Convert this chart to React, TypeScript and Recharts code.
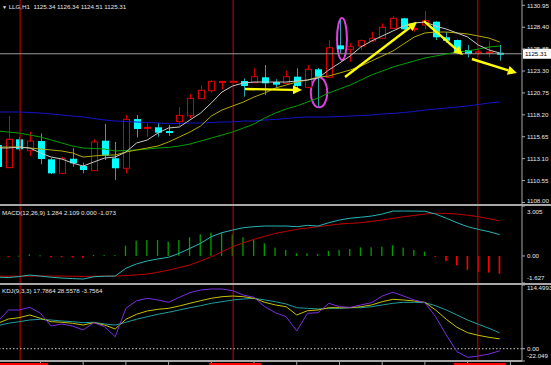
import React from "react";
import { ComposedChart, Bar, Line, XAxis, YAxis, ReferenceLine, ReferenceArea } from "recharts";

// LLG,H1 bars (index 0 is the clipped bar at the left edge)
const opens = [1114.69, 1112.05, 1115.35, 1114.02, 1115.15, 1113.02, 1111.39, 1113.09, 1112.24, 1111.7, 1115.19, 1113.14, 1111.98, 1117.71, 1116.58, 1116.75, 1116.28, 1117.4, 1118.1, 1120.08, 1121.01, 1121.95, 1122.0, 1122.14, 1121.94, 1122.57, 1122.02, 1121.87, 1122.64, 1121.4, 1123.5, 1122.57, 1126.29, 1125.83, 1126.21, 1126.79, 1127.11, 1128.27, 1129.44, 1128.12, 1128.66, 1129.04, 1127.23, 1126.91, 1125.75, 1125.4, 1125.41, 1125.34];
const highs = [1114.9, 1118.06, 1115.62, 1116.24, 1116.05, 1113.17, 1113.29, 1114.3, 1112.63, 1115.35, 1117.13, 1115.04, 1118.18, 1118.18, 1117.21, 1117.28, 1117.02, 1119.08, 1120.62, 1121.64, 1122.25, 1122.17, 1122.25, 1122.45, 1123.62, 1124.0, 1122.34, 1123.34, 1123.62, 1124.0, 1123.65, 1126.91, 1129.24, 1126.53, 1126.97, 1127.88, 1128.85, 1129.7, 1129.49, 1128.46, 1130.29, 1129.1, 1127.84, 1126.97, 1126.33, 1125.83, 1126.83, 1126.34];
const lows = [1111.95, 1112.01, 1113.99, 1113.41, 1112.44, 1111.31, 1111.31, 1112.16, 1111.39, 1111.66, 1112.94, 1110.61, 1111.39, 1115.58, 1115.65, 1115.65, 1115.74, 1116.9, 1117.8, 1120.05, 1120.78, 1121.17, 1121.85, 1120.31, 1121.9, 1120.51, 1121.4, 1121.85, 1121.09, 1121.32, 1119.15, 1122.49, 1125.36, 1124.38, 1125.75, 1126.74, 1127.08, 1128.25, 1128.1, 1127.88, 1128.16, 1126.91, 1126.6, 1125.49, 1124.9, 1125.16, 1124.9, 1124.51];
const closes = [1112.13, 1115.35, 1114.19, 1115.15, 1113.06, 1111.39, 1113.09, 1112.56, 1111.78, 1115.04, 1113.44, 1111.98, 1117.68, 1116.55, 1116.68, 1116.12, 1116.2, 1118.14, 1120.12, 1121.06, 1122.1, 1122.03, 1122.05, 1121.56, 1122.64, 1121.87, 1121.71, 1122.64, 1121.56, 1123.5, 1122.64, 1126.01, 1125.83, 1126.13, 1126.83, 1127.11, 1128.39, 1129.44, 1128.16, 1128.2, 1129.16, 1127.23, 1126.83, 1125.55, 1125.28, 1125.47, 1125.46, 1125.31];

// moving averages
const maWhite = [1114.34, 1114.34, 1114.45, 1114.34, 1113.76, 1113.29, 1113.06, 1112.59, 1112.24, 1112.71, 1113.17, 1113.29, 1113.87, 1114.92, 1115.27, 1116.08, 1116.67, 1116.78, 1117.6, 1118.41, 1119.58, 1120.86, 1121.56, 1121.91, 1122.02, 1122.02, 1122.02, 1122.02, 1122.14, 1122.25, 1122.49, 1123.42, 1124.23, 1125.05, 1126.1, 1126.79, 1127.38, 1127.96, 1128.54, 1128.89, 1129.01, 1128.54, 1128.19, 1127.73, 1127.26, 1126.33, 1125.75, 1125.4];
const maYellow = [1114.45, 1114.45, 1114.45, 1114.34, 1114.22, 1114.11, 1113.99, 1113.76, 1113.29, 1113.41, 1113.52, 1113.52, 1113.87, 1114.11, 1114.34, 1114.57, 1115.04, 1115.62, 1116.2, 1116.9, 1118.06, 1118.76, 1119.23, 1119.69, 1120.28, 1120.74, 1121.32, 1121.67, 1122.02, 1122.25, 1122.6, 1122.72, 1123.07, 1123.42, 1123.88, 1124.47, 1125.05, 1125.63, 1126.45, 1127.26, 1127.73, 1127.84, 1127.84, 1127.73, 1127.61, 1127.38, 1127.14, 1126.68];
const maGreen = [1116.32, 1116.2, 1116.08, 1115.85, 1115.62, 1115.27, 1114.92, 1114.57, 1114.34, 1114.28, 1114.22, 1113.99, 1114.05, 1114.11, 1114.22, 1114.34, 1114.4, 1114.57, 1114.8, 1115.15, 1115.5, 1115.85, 1116.2, 1116.67, 1117.13, 1117.83, 1118.41, 1118.88, 1119.23, 1119.69, 1120.16, 1120.74, 1121.21, 1121.67, 1122.25, 1122.84, 1123.3, 1123.77, 1124.12, 1124.47, 1124.82, 1125.05, 1125.28, 1125.51, 1125.63, 1125.86, 1126.1, 1126.21];
const maBlue = [1118.53, 1118.53, 1118.53, 1118.47, 1118.41, 1118.3, 1118.18, 1118.06, 1117.95, 1117.77, 1117.6, 1117.48, 1117.42, 1117.37, 1117.31, 1117.25, 1117.19, 1117.19, 1117.25, 1117.25, 1117.31, 1117.37, 1117.37, 1117.48, 1117.48, 1117.6, 1117.66, 1117.77, 1117.89, 1117.95, 1117.95, 1117.95, 1118.01, 1118.06, 1118.12, 1118.18, 1118.3, 1118.36, 1118.47, 1118.59, 1118.76, 1118.88, 1118.99, 1119.11, 1119.23, 1119.4, 1119.58, 1119.69];

// MACD(12,26,9)
const macdMain = [-1.28, -1.3, -1.24, -1.15, -1.21, -1.28, -1.33, -1.36, -1.39, -1.25, -1.22, -1.21, -0.74, -0.48, -0.3, -0.18, -0.08, 0.16, 0.46, 0.76, 1.16, 1.4, 1.56, 1.7, 1.76, 1.8, 1.8, 1.8, 1.76, 1.84, 1.8, 2.0, 2.16, 2.27, 2.33, 2.4, 2.52, 2.7, 2.7, 2.7, 2.69, 2.52, 2.27, 2.0, 1.76, 1.6, 1.46, 1.284];
const macdSignal = [-1.22, -1.22, -1.22, -1.21, -1.21, -1.21, -1.21, -1.22, -1.23, -1.22, -1.21, -1.21, -1.18, -1.14, -1.09, -0.98, -0.85, -0.7, -0.54, -0.3, -0.05, 0.25, 0.56, 0.79, 1.0, 1.18, 1.36, 1.48, 1.6, 1.68, 1.76, 1.84, 1.92, 1.96, 2.0, 2.08, 2.16, 2.26, 2.36, 2.44, 2.52, 2.57, 2.56, 2.52, 2.45, 2.36, 2.24, 2.109];
const macdHist = [-0.02, -0.03, 0.02, 0.1, 0.04, -0.08, -0.08, -0.08, -0.12, 0.06, 0.06, 0.05, 0.62, 0.92, 0.96, 0.96, 0.86, 0.96, 1.12, 1.3, 1.4, 1.4, 1.3, 1.12, 1.0, 0.76, 0.5, 0.36, 0.16, 0.16, 0.12, 0.3, 0.36, 0.42, 0.52, 0.52, 0.56, 0.64, 0.5, 0.36, 0.26, -0.03, -0.3, -0.56, -0.84, -0.96, -1.0, -1.073];

// KDJ(9,3,3)
const kdjK = [45.7, 53.4, 55.8, 60.6, 54.7, 48.6, 47.5, 45.7, 42.6, 46.8, 42.6, 35.5, 52.9, 61.9, 67.8, 70.8, 72.6, 76.8, 81.6, 86.3, 90.6, 93.5, 94.7, 93.5, 90.6, 83.4, 78.6, 75.5, 60.6, 68.3, 69.6, 73.7, 73.7, 73.7, 75.5, 78.6, 84.5, 88.8, 87.6, 85.8, 83.4, 69.6, 52.9, 38.5, 28.8, 24.1, 20.5, 17.7864];
const kdjD = [41.4, 45.7, 48.6, 51.6, 52.9, 51.6, 49.8, 48.6, 46.8, 47.5, 44.4, 42.6, 47.5, 52.9, 57.5, 61.9, 65.5, 69.6, 73.7, 77.3, 81.6, 84.5, 87.6, 89.3, 90.6, 87.6, 84.5, 80.4, 73.7, 72.6, 71.4, 72.6, 72.6, 73.7, 73.7, 75.5, 78.6, 81.6, 83.4, 83.4, 82.7, 77.3, 69.6, 60.6, 51.6, 43.9, 36.7, 28.5578];
const kdjJ = [48.6, 69.6, 69.6, 74.4, 63.7, 40.8, 44.4, 40.8, 33.7, 46.8, 39.6, 21.6, 72.6, 86.3, 90.6, 87.6, 83.4, 92.4, 100.7, 105.5, 107.3, 107.3, 104.3, 96.5, 92.4, 75.5, 64.7, 57.5, 31.9, 63.7, 64.7, 81.6, 75.5, 74.4, 78.6, 82.7, 94.7, 101.4, 94.7, 87.6, 82.7, 57.5, 24.7, -5.3, -15.4, -13.1, -9.5, -3.7564];

const priceTicks = [1108.0, 1110.55, 1113.1, 1115.65, 1118.2, 1120.75, 1123.3, 1125.85, 1128.4, 1130.95];
const macdTicks = [3.005, 0, -1.627];
const macdLabels = ["3.005", "0.00", "-1.627"];
const kdjTicks = [114.4993, 0, -22.049];
const kdjLabels = ["114.4993", "0.00", "-22.049"];
const daySeparators = [2.1, 22.05, 44.95];
const timeTicks = [4, 8, 12, 16, 20, 24, 28, 32, 36, 40, 44, 48];
const lastPrice = 1125.31;

// hand drawn marks, in bar index / price units
const arrows = [
  { x1: 23.15, y1: 1121.21, x2: 28.49, y2: 1121.09 },
  { x1: 32.52, y1: 1122.6, x2: 39.26, y2: 1129.01 },
  { x1: 39.91, y1: 1129.12, x2: 43.56, y2: 1125.16 },
  { x1: 44.4, y1: 1124.7, x2: 48.61, y2: 1123.07 },
];
const circles = [
  { x1: 31.77, x2: 32.7, y1: 1124.58, y2: 1129.47 },
  { x1: 29.31, x2: 30.86, y1: 1119.08, y2: 1122.57 },
];

const data = opens.map((o, i) => ({
  i,
  open: o,
  high: highs[i],
  low: lows[i],
  close: closes[i],
  maWhite: maWhite[i],
  maYellow: maYellow[i],
  maGreen: maGreen[i],
  maBlue: maBlue[i],
  macd: macdMain[i],
  signal: macdSignal[i],
  hist: macdHist[i],
  k: kdjK[i],
  d: kdjD[i],
  j: kdjJ[i],
}));

const xDomain: [number, number] = [0.2135, 49.09];
const FONT = "Liberation Sans";
const TXT = "#e6e6e6";
const GRID = "#a8a8a8";
const SEP = "#a80000";

function Candle(props: any) {
  const { x, y, width, height, payload } = props;
  if (x == null || y == null) return null;
  const top = Math.min(y, y + height);
  const h = Math.abs(height);
  const { open, close, high, low } = payload;
  const k = high > low ? h / (high - low) : 0;
  const py = (v: number) => top + (high - v) * k;
  const cx = Math.round(x + width / 2) + 0.5;
  const bull = close >= open;
  const bTop = py(Math.max(open, close));
  const bBot = py(Math.min(open, close));
  const wick = bull ? "#d80000" : "#20a8a8";
  if (bBot - bTop < 1.2) {
    return (
      <g>
        <line x1={cx} x2={cx} y1={py(high)} y2={py(low)} stroke={wick} strokeWidth={1} />
        <rect x={cx - 3.5} y={py(close) - 1} width={7} height={2} fill={bull ? "#e00000" : "#00ffff"} />
      </g>
    );
  }
  return (
    <g>
      <line x1={cx} x2={cx} y1={py(high)} y2={py(low)} stroke={wick} strokeWidth={1} />
      {bull ? (
        <rect x={cx - 3} y={bTop} width={6} height={bBot - bTop} fill="#000" stroke="#d80000" strokeWidth={1} />
      ) : (
        <rect x={cx - 3.5} y={bTop} width={7} height={bBot - bTop} fill="#00ffff" />
      )}
    </g>
  );
}

function HistBar(props: any) {
  const { x, y, width, height, payload } = props;
  if (x == null || y == null) return null;
  const top = Math.min(y, y + height);
  const h = Math.max(Math.abs(height), 1);
  const cx = x + width / 2;
  const up = payload.hist >= 0;
  return <rect x={cx - 0.7} y={top} width={up ? 1.3 : 1.6} height={h} fill={up ? "#00a000" : "#ff0000"} />;
}

function Arrow(props: any) {
  const { x1, y1, x2, y2 } = props;
  const a = Math.atan2(y2 - y1, x2 - x1);
  const L = 9;
  const W = 4.5;
  const bx = x2 - L * Math.cos(a);
  const by = y2 - L * Math.sin(a);
  const px = -Math.sin(a) * W;
  const py = Math.cos(a) * W;
  return (
    <g>
      <line x1={x1} y1={y1} x2={bx} y2={by} stroke="#ffff00" strokeWidth={2.4} />
      <polygon points={`${x2},${y2} ${bx + px},${by + py} ${bx - px},${by - py}`} fill="#ffff00" />
    </g>
  );
}

function Ring(props: any) {
  const { x, y, width, height } = props;
  return (
    <ellipse cx={x + width / 2} cy={y + height / 2} rx={width / 2} ry={height / 2} fill="none" stroke="#e040e0" strokeWidth={2} />
  );
}

function PriceTag(props: any) {
  const vb = props.viewBox;
  if (!vb) return null;
  const x = vb.x + vb.width + 1;
  return (
    <g>
      <rect x={x} y={vb.y - 5} width={29} height={10} fill="#ffffff" />
      <text x={x + 2} y={vb.y + 2.2} fontSize={6.2} fontFamily={FONT} fill="#000">{lastPrice.toFixed(2)}</text>
    </g>
  );
}

function makeTick(labels: string[] | null, ticks: number[], minY: number, maxY: number) {
  return (props: any) => {
    const { x, y, payload } = props;
    const idx = ticks.indexOf(payload.value);
    const text = labels && idx >= 0 ? labels[idx] : Number(payload.value).toFixed(2);
    const ty = Math.min(Math.max(y, minY), maxY);
    return (
      <text x={x} y={ty} dy={2.2} fontSize={6.2} fontFamily={FONT} fill={TXT} textAnchor="start">{text}</text>
    );
  };
}

function TimeTick(props: any) {
  const { x, y, payload } = props;
  if (daySeparators.includes(payload.value)) {
    return <rect x={x - 24} y={y + 2} width={52} height={4} fill="#ff0000" />;
  }
  return <line x1={x} x2={x} y1={y} y2={y + 4} stroke={GRID} strokeWidth={1} />;
}

const yAxisCommon = {
  orientation: "right" as const,
  width: 29,
  allowDataOverflow: true,
  interval: 0 as const,
  tickSize: 3,
  tickMargin: 2,
  axisLine: { stroke: GRID },
  tickLine: { stroke: GRID },
};

const label: React.CSSProperties = {
  position: "absolute",
  left: 2,
  fontSize: 6.2,
  lineHeight: "7px",
  fontFamily: FONT,
  color: TXT,
  whiteSpace: "nowrap",
};

export default function App() {
  return (
    <div style={{ position: "relative", width: 551, height: 365, background: "#000", overflow: "hidden" }}>
      <style>{"body{margin:0;background:#000}"}</style>

      <ComposedChart width={551} height={204} data={data} margin={{ top: 0, right: 0, bottom: 0, left: 0 }}>
        <XAxis type="number" dataKey="i" domain={xDomain} allowDataOverflow hide />
        <YAxis
          {...yAxisCommon}
          domain={[1107.82, 1131.57]}
          ticks={priceTicks}
          tick={makeTick(null, priceTicks, -10, 201)}
        />
        {daySeparators.map((s) => (
          <ReferenceLine key={s} x={s} stroke={SEP} strokeWidth={1.3} />
        ))}
        <ReferenceLine y={lastPrice} stroke="#9a9a9a" strokeWidth={1} label={<PriceTag />} />
        <Line dataKey="maBlue" stroke="#1414c8" strokeWidth={1} dot={false} isAnimationActive={false} />
        <Line dataKey="maGreen" stroke="#00a000" strokeWidth={1} dot={false} isAnimationActive={false} />
        <Line dataKey="maYellow" stroke="#b4a800" strokeWidth={1} dot={false} isAnimationActive={false} />
        <Line dataKey="maWhite" stroke="#c8c8c8" strokeWidth={1} dot={false} isAnimationActive={false} />
        <Bar dataKey={(d: any) => [d.low, d.high]} barSize={7} shape={<Candle />} isAnimationActive={false} />
        {circles.map((c, n) => (
          <ReferenceArea key={n} x1={c.x1} x2={c.x2} y1={c.y1} y2={c.y2} shape={Ring} ifOverflow="visible" />
        ))}
        {arrows.map((a, n) => (
          <ReferenceLine
            key={n}
            segment={[{ x: a.x1, y: a.y1 }, { x: a.x2, y: a.y2 }]}
            shape={Arrow}
            ifOverflow="visible"
          />
        ))}
      </ComposedChart>
      <div style={{ height: 2, background: GRID }} />

      <ComposedChart width={551} height={77} data={data} margin={{ top: 0, right: 0, bottom: 0, left: 0 }}>
        <XAxis type="number" dataKey="i" domain={xDomain} allowDataOverflow hide />
        <YAxis
          {...yAxisCommon}
          domain={[-1.627, 3.005]}
          ticks={macdTicks}
          tick={makeTick(macdLabels, macdTicks, 5.3, 72)}
        />
        {daySeparators.map((s) => (
          <ReferenceLine key={s} x={s} stroke={SEP} strokeWidth={1.3} />
        ))}
        <Bar dataKey="hist" barSize={2} shape={<HistBar />} isAnimationActive={false} />
        <Line dataKey="signal" stroke="#c00000" strokeWidth={1} dot={false} isAnimationActive={false} />
        <Line dataKey="macd" stroke="#28b4b4" strokeWidth={1} dot={false} isAnimationActive={false} />
      </ComposedChart>
      <div style={{ height: 2, background: GRID }} />

      <ComposedChart width={551} height={80} data={data} margin={{ top: 0, right: 0, bottom: 0, left: 0 }}>
        <XAxis
          type="number"
          dataKey="i"
          domain={xDomain}
          allowDataOverflow
          height={4}
          ticks={[...timeTicks, ...daySeparators]}
          interval={0}
          tickSize={0}
          tickMargin={0}
          axisLine={{ stroke: GRID, strokeWidth: 2 }}
          tick={<TimeTick />}
        />
        <YAxis
          {...yAxisCommon}
          domain={[-22.049, 114.4993]}
          ticks={kdjTicks}
          tick={makeTick(kdjLabels, kdjTicks, 3, 70.7)}
        />
        {daySeparators.map((s) => (
          <ReferenceLine key={s} x={s} stroke={SEP} strokeWidth={1.3} />
        ))}
        <ReferenceLine y={0} stroke="#c8c8c8" strokeDasharray="1.5 2" />
        <Line dataKey="d" stroke="#1e9e9e" strokeWidth={1} dot={false} isAnimationActive={false} />
        <Line dataKey="k" stroke="#c8c000" strokeWidth={1} dot={false} isAnimationActive={false} />
        <Line dataKey="j" stroke="#7a2ee0" strokeWidth={1} dot={false} isAnimationActive={false} />
      </ComposedChart>

      <div style={{ ...label, top: 3 }}>
        <span style={{ fontSize: 5 }}>▼</span> LLG,H1&nbsp;&nbsp;1125.34 1126.34 1124.51 1125.31
      </div>
      <div style={{ ...label, top: 209 }}>MACD(12,26,9) 1.284 2.109 0.000 -1.073</div>
      <div style={{ ...label, top: 287 }}>KDJ(9,3,3) 17.7864 28.5578 -3.7564</div>
    </div>
  );
}
